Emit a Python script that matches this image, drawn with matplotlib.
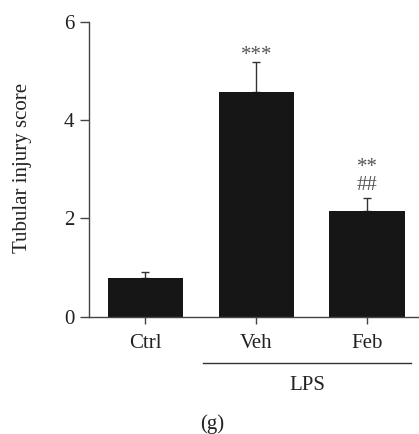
import matplotlib
matplotlib.use("Agg")
import matplotlib.pyplot as plt
import numpy as np

categories = ["Ctrl", "Veh", "Feb"]
values = [0.78, 4.58, 2.15]
errors = [0.13, 0.61, 0.26]
upper_marks = ["", "***", "**"]
second_marks = ["", "", "##"]
yticks = [0, 2, 4, 6]

plt.rcParams['font.family'] = ['Liberation Serif', 'DejaVu Serif']

W, H = 419, 434
FS = 15
fig = plt.figure(figsize=(W / 100, H / 100), dpi=100)
ax = fig.add_axes([89 / W, 1 - 316.7 / H, (423.5 - 89) / W, (316.7 - 22) / H])

x = np.arange(len(categories))
ax.bar(x, values, width=0.68, color="#161616", zorder=2)
ax.errorbar(x, values, yerr=[np.zeros(len(values)), errors], fmt="none",
            ecolor="#333333", elinewidth=1.0, capsize=3.0, capthick=1.0, zorder=1)

ax.set_xlim(-0.51, 2.51)
ax.set_ylim(0, 6)
ax.set_yticks(yticks)
ax.set_xticks(x)
ax.set_xticklabels(categories)
ax.tick_params(axis="y", length=6.5, width=1.0, color="#444444", labelsize=FS, pad=4, labelcolor="#222222")
ax.tick_params(axis="x", length=5.3, width=1.0, color="#444444", labelsize=FS, pad=7.3, labelcolor="#222222")
for s in ["top", "right"]:
    ax.spines[s].set_visible(False)
for s in ["left", "bottom"]:
    ax.spines[s].set_color("#444444")
    ax.spines[s].set_linewidth(1.0)

ax.set_ylabel("Tubular injury score", fontsize=FS, color="#222222")
ax.yaxis.set_label_coords(-0.17, 0.505)

for i, (v, e) in enumerate(zip(values, errors)):
    top = v + e
    if second_marks[i]:
        ax.annotate(second_marks[i], (x[i], top), xytext=(0, 6.3), textcoords="offset points",
                    ha="center", va="baseline", fontsize=FS, color="#555555")
        ax.annotate(upper_marks[i], (x[i], top), xytext=(0, 18.6), textcoords="offset points",
                    ha="center", va="baseline", fontsize=FS, color="#555555")
    elif upper_marks[i]:
        ax.annotate(upper_marks[i], (x[i], top), xytext=(0, 1.4), textcoords="offset points",
                    ha="center", va="baseline", fontsize=FS, color="#555555")

fig.add_artist(plt.Line2D([203 / W, 411 / W], [1 - 362.7 / H, 1 - 362.7 / H],
                          color="#333333", linewidth=1.0))
fig.text(307 / W, 1 - 385 / H, "LPS", ha="center", va="center", fontsize=FS, color="#222222")
fig.text(212 / W, 1 - 424 / H, "(g)", ha="center", va="center", fontsize=FS, color="#222222")

fig.savefig("out.png", dpi=100)
